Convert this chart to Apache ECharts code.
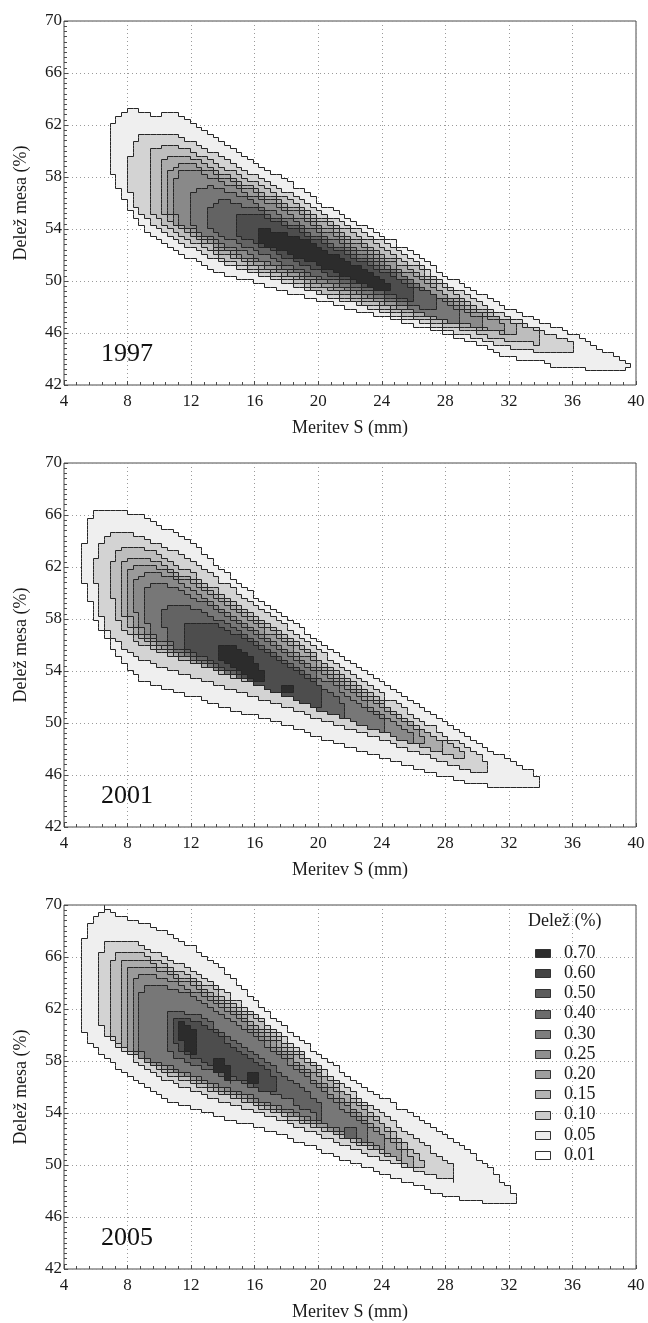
<!DOCTYPE html>
<html><head><meta charset="utf-8">
<script src="https://cdn.jsdelivr.net/npm/echarts/dist/echarts.min.js"></script>
<style>html,body{margin:0;padding:0;background:#fff}#c{width:648px;height:1323px}</style>
</head><body><div id="c"></div>
<script>
// ---------- DATA ----------
const years = ['1997', '2001', '2005'];
const contourLevels = [0.01, 0.05, 0.10, 0.15, 0.20, 0.25, 0.30, 0.40, 0.50, 0.60];
const legendLabels = ['0.70', '0.60', '0.50', '0.40', '0.30', '0.25', '0.20', '0.15', '0.10', '0.05', '0.01'];
const xAxisTitle = 'Meritev S (mm)';
const yAxisTitle = 'Delež mesa (%)';
const legendTitle = 'Delež (%)';

// Each level: list of shapes; each shape: stations [x, yLow, yHigh]
const contours1997 = [
  [[[6.8,59.4,61.2],[7.2,57.8,62.5],[8.0,55.6,63.2],[9.0,54.1,63.1],[9.6,53.5,62.7],[10.5,52.8,63.1],[11.5,52.1,62.6],[12.6,51.4,61.8],[14,50.6,60.6],[16,49.9,59.1],[18,49.2,57.7],[20,48.6,56.1],[22,47.9,54.7],[24,47.3,53.5],[26,46.7,52.1],[28,46.0,50.4],[30,45.2,49.1],[32,44.2,47.9],[34,43.9,46.9],[35,43.4,46.4],[36,43.4,45.9],[38,43.0,44.6],[39.2,43.1,43.8],[39.6,43.5,43.8]]],
  [[[8.05,57.2,59.4],[8.3,56.2,60.4],[8.9,55.2,61.3],[9.6,54.4,61.4],[10.7,53.5,61.3],[12,52.6,60.7],[14,51.5,59.5],[16,50.6,58.1],[18,49.8,56.8],[20,49.1,55.4],[22,48.4,54.2],[24,47.7,53.0],[26,47.0,51.6],[28,46.3,49.8],[30,45.6,48.4],[32,45.0,47.2],[34,44.6,46.2],[36.2,44.5,45.3]]],
  [[[9.25,56.4,59.6],[9.6,55.3,60.2],[10.2,54.5,60.4],[11,53.9,60.4],[12,53.1,59.9],[14,51.8,58.8],[16,50.9,57.6],[18,50.1,56.3],[20,49.3,55.0],[22,48.6,53.8],[24,47.9,52.6],[26,47.2,51.2],[28,46.6,49.4],[30,46.0,48.0],[32,45.4,46.9],[33.9,45.2,46.1]]],
  [[[10.0,55.9,58.8],[10.4,54.9,59.5],[11,54.3,59.7],[12,53.6,59.5],[12.5,53.3,59.2],[14,52.2,58.3],[16,51.2,57.1],[18,50.4,55.9],[20,49.6,54.7],[22,48.9,53.4],[24,48.2,52.1],[26,47.5,50.7],[28,46.9,49.0],[30,46.3,47.7],[32.4,45.9,46.7]]],
  [[[10.45,55.6,58.4],[10.8,54.7,58.9],[11.5,54.1,59.1],[12,53.8,59.0],[14,52.4,58.0],[16,51.4,56.8],[18,50.6,55.6],[20,49.8,54.4],[22,49.1,53.1],[24,48.4,51.8],[26,47.7,50.4],[28,47.1,48.8],[30,46.5,47.5],[31.8,46.0,46.6]]],
  [[[10.9,55.3,57.9],[11.3,54.5,58.4],[12,54.0,58.5],[12.5,53.7,58.4],[14,52.6,57.6],[16,51.6,56.5],[18,50.8,55.3],[20,50.0,54.1],[22,49.3,52.8],[24,48.6,51.5],[26,47.9,50.0],[28,47.3,48.5],[30.3,46.3,47.1]]],
  [[[12.0,54.5,56.8],[12.4,53.9,57.2],[13.2,53.4,57.3],[15,52.4,56.6],[17,51.4,55.4],[19,50.6,54.3],[21,49.8,53.1],[23,49.1,51.9],[25,48.3,50.6],[27,47.3,49.1],[28.8,46.6,47.8]]],
  [[[13.0,54.4,55.6],[13.4,53.9,56.1],[14.2,53.4,56.2],[16,52.4,55.6],[18,51.3,54.5],[20,50.4,53.4],[22,49.7,52.2],[24,49.0,51.0],[26,48.2,49.6],[27.3,47.8,48.9]]],
  [[[14.65,54.0,55.0],[15,53.6,55.2],[16,53.0,55.2],[18,51.8,54.2],[20,50.9,53.1],[22,50.0,51.9],[24,49.2,50.7],[26.0,48.5,49.4]]],
  [[[16.4,53.0,54.0],[17.8,52.3,53.8],[19.9,51.3,52.7],[22,50.3,51.4],[23.6,49.4,50.4],[24.4,49.3,49.9]]]
];

const contours2001 = [
  [[[5.0,61.6,62.7],[5.3,60.6,64.1],[5.55,59.5,65.6],[5.85,58.4,66.25],[6.5,56.8,66.25],[7.95,54.4,66.25],[8.8,53.4,66.0],[9.6,52.9,65.5],[10.7,52.6,64.8],[12.6,51.9,63.3],[14,51.3,61.7],[16,50.6,59.7],[18,49.8,58.0],[20,49.0,56.3],[22,48.2,54.7],[24,47.4,53.1],[26,46.6,51.5],[28,45.9,50.0],[30,45.3,48.4],[32,45.0,47.2],[33.4,45.0,46.3],[33.9,45.2,45.6]]],
  [[[5.95,61.0,62.8],[6.2,59.0,63.4],[6.5,57.8,64.2],[6.9,56.8,64.6],[8,55.6,64.6],[9,54.9,64.2],[10.5,54.2,63.5],[12,53.6,62.4],[14,52.8,60.8],[16,52.0,59.1],[18,51.2,57.4],[20,50.4,55.6],[22,49.6,53.9],[24,48.8,52.2],[26,47.9,50.6],[28,47.0,49.0],[29.8,46.3,47.8],[30.75,46.3,46.8]]],
  [[[7.0,59.8,62.4],[7.3,58.4,63.2],[7.7,57.3,63.6],[8.5,56.4,63.6],[9.5,55.8,63.2],[10.5,55.3,62.6],[12,54.7,61.5],[14,53.9,59.9],[16,53.1,58.3],[18,52.2,56.6],[20,51.3,55.0],[22,50.4,53.3],[24,49.5,51.6],[26,48.6,50.0],[28,47.6,48.5],[29.3,47.2,47.7]]],
  [[[7.5,59.6,61.9],[7.8,58.2,62.5],[8.2,57.2,62.8],[9.0,56.4,62.8],[10,55.8,62.4],[11,55.2,61.7],[13,54.3,60.3],[15,53.5,58.8],[17,52.6,57.2],[19,51.7,55.6],[21,50.8,53.9],[23,49.9,52.2],[25,49.0,50.5],[26.8,48.1,49.2],[27.8,47.7,48.7]]],
  [[[7.95,59.4,61.5],[8.2,58.0,62.0],[8.6,57.1,62.2],[9.4,56.3,62.2],[10.5,55.7,61.7],[12,54.9,60.7],[14,54.0,59.2],[16,53.1,57.6],[18,52.2,56.0],[20,51.3,54.4],[22,50.4,52.8],[24,49.5,51.1],[25.5,48.8,49.9],[26.6,48.4,49.0]]],
  [[[8.4,59.1,60.9],[8.7,57.8,61.3],[9.1,56.9,61.5],[10,56.1,61.5],[11,55.5,61.0],[12,54.9,60.3],[14,54.0,58.8],[16,53.1,57.2],[18,52.2,55.6],[20,51.3,54.0],[22,50.4,52.4],[24,49.4,50.6],[26.0,48.4,49.1]]],
  [[[9.0,58.6,60.2],[9.3,57.4,60.6],[9.8,56.6,60.8],[11,55.6,60.4],[13,54.5,59.1],[15,53.5,57.6],[17,52.6,56.0],[19,51.7,54.4],[21,50.8,52.8],[23,49.8,51.0],[24.0,49.3,50.2]]],
  [[[10.25,57.6,58.7],[10.5,56.6,59.1],[11,55.9,59.2],[12,55.2,58.9],[14,54.1,57.8],[16,53.1,56.4],[18,52.1,54.8],[20,51.1,53.0],[21.5,50.5,51.5]]],
  [[[11.4,56.6,57.4],[11.8,55.7,57.8],[13,55.0,57.8],[15,53.7,56.7],[17,52.6,55.3],[19,51.6,53.8],[20.1,51.1,52.8]]],
  [[[13.6,55.1,56.0],[14.6,54.3,56.0],[15.5,53.7,55.4],[16.1,53.2,54.6],[16.6,53.2,53.8]],
   [[17.7,52.4,52.8],[18.4,52.4,52.8]]]
];

const contours2005 = [
  [[[5.0,62.9,64.7],[5.2,60.4,67.3],[5.5,59.6,68.3],[5.9,59.1,69.1],[6.3,58.7,69.4],[6.5,58.5,70.0],[6.8,58.2,69.5],[8.0,56.9,69.0],[9.0,56.1,68.6],[10.5,55.1,67.8],[12,54.5,66.8],[14,53.7,65.0],[16,53.0,62.6],[18,52.2,60.5],[20,51.3,58.5],[22,50.3,56.7],[24,49.4,55.2],[26,48.6,53.8],[28,47.7,52.3],[29,47.4,51.5],[30,47.2,50.6],[31,47.1,49.6],[31.6,47.0,48.5],[32.2,47.1,48.0],[32.6,47.3,47.7]]],
  [[[6.3,60.9,66.4],[6.7,59.9,67.3],[8.0,58.6,67.3],[9.0,57.6,66.8],[10,56.8,66.2],[12,55.8,65.0],[14,55.0,63.4],[16,54.1,61.6],[18,53.3,59.6],[20,52.4,57.6],[22,51.4,55.7],[24,50.5,53.9],[26,49.8,52.2],[27.5,49.1,50.7],[28.55,48.8,49.9]]],
  [[[7.0,60.2,65.6],[7.3,59.4,66.5],[8.2,58.7,66.5],[9.5,57.7,65.9],[11,56.8,65.1],[13,55.9,63.8],[15,55.1,62.2],[17,54.2,60.3],[19,53.3,58.3],[21,52.4,56.3],[23,51.5,54.3],[25,50.5,52.2],[26.5,49.7,50.4]]],
  [[[7.5,59.8,65.2],[7.8,59.0,65.9],[8.8,58.3,65.9],[10,57.6,65.3],[12,56.6,64.1],[14,55.7,62.6],[16,54.8,60.9],[18,53.9,59.0],[20,53.0,57.2],[22,52.1,55.2],[24,51.1,53.0],[25.9,49.9,50.6]]],
  [[[7.9,59.5,64.6],[8.2,58.7,65.3],[9.3,58.0,65.3],[10.5,57.4,64.7],[12,56.7,63.8],[14,55.8,62.3],[16,54.9,60.6],[18,54.0,58.6],[20,53.1,56.7],[22,52.2,54.6],[24,51.2,52.4],[25.4,50.1,50.9]]],
  [[[8.3,59.2,64.0],[8.6,58.5,64.7],[9.8,57.9,64.6],[11,57.3,64.0],[13,56.4,62.8],[15,55.5,61.2],[17,54.6,59.3],[19,53.7,57.3],[21,52.8,55.3],[23,51.9,53.2],[24.2,51.2,52.1]]],
  [[[8.8,58.8,63.2],[9.2,58.3,63.9],[10.2,57.8,63.9],[12,57.0,63.0],[14,56.1,61.6],[16,55.2,59.9],[18,54.3,58.0],[20,53.4,56.0],[22,52.4,53.8],[23.0,51.8,52.9]]],
  [[[10.35,59.1,61.8],[11,58.4,61.9],[12.5,57.6,61.5],[14.2,56.8,60.0],[16,56.0,58.5],[18,55.2,56.8],[19.5,54.1,55.4],[20.1,53.6,54.7]],
   [[21.6,52.2,52.8],[22.2,52.2,52.8]]],
  [[[11.0,59.4,61.2],[11.5,58.6,61.4],[12.5,58.2,61.0],[14,57.2,59.6],[15.5,56.4,58.4],[16.8,55.6,57.4],[17.3,55.9,56.6]]],
  [[[11.2,60.0,60.9],[11.6,59.0,61.0],[12.0,58.6,60.5],[12.45,58.7,59.8]],
   [[13.4,57.4,58.1],[13.9,57.0,58.2],[14.35,56.4,57.3]],
   [[15.6,56.3,57.0],[16.2,56.4,57.05]]]
];

const panels = [contours1997, contours2001, contours2005];

// ---------- STYLE ----------
const FONT = '"Liberation Serif", "Times New Roman", serif';
const fillColors = ['#efefef','#d3d3d3','#bdbdbd','#ababab','#9a9a9a','#898989','#777777','#636363','#4d4d4d','#2c2c2c'];
const legendColors = ['#2c2c2c','#444444','#5c5c5c','#6b6b6b','#7e7e7e','#8f8f8f','#9e9e9e','#b3b3b3','#cccccc','#ececec','#ffffff'];
const gridTops = [21, 463, 905];
const GL = 64, GW = 572, GH = 364;
const CELL_X = 0.36, CELL_Y = 0.28; // raster cell of the contouring grid

function toPolygon(st) {
  const up = st.map(s => [s[0], s[2]]);
  const lo = st.slice().reverse().map(s => [s[0], s[1]]);
  return up.concat(lo);
}
function snap(x, y) {
  return [4 + Math.round((x - 4) / CELL_X) * CELL_X, 42 + Math.round((y - 42) / CELL_Y) * CELL_Y];
}
function stairs(poly) {
  const pts = [];
  for (let i = 0; i < poly.length; i++) {
    const a = poly[i], b = poly[(i + 1) % poly.length];
    const n = Math.max(1, Math.ceil(Math.max(Math.abs(b[0] - a[0]) / CELL_X, Math.abs(b[1] - a[1]) / CELL_Y) * 3));
    for (let k = 0; k < n; k++) {
      const t = k / n;
      pts.push(snap(a[0] + (b[0] - a[0]) * t, a[1] + (b[1] - a[1]) * t));
    }
  }
  pts.push(pts[0]);
  const out = [];
  const eq = (u, v) => Math.abs(u - v) < 1e-9;
  for (const p of pts) {
    if (!out.length) { out.push(p); continue; }
    const q = out[out.length - 1];
    if (eq(p[0], q[0]) && eq(p[1], q[1])) continue;
    if (!eq(p[0], q[0]) && !eq(p[1], q[1])) out.push([p[0], q[1]]);
    out.push(p);
  }
  return out;
}

const grids = [], xAxes = [], yAxes = [], series = [], graphics = [];
panels.forEach((panel, p) => {
  grids.push({ left: GL, top: gridTops[p], width: GW, height: GH, show: true, borderColor: '#4a4a4a', borderWidth: 1, backgroundColor: 'transparent' });
  xAxes.push({
    gridIndex: p, type: 'value', min: 4, max: 40, interval: 4,
    name: xAxisTitle, nameLocation: 'middle', nameGap: 34,
    nameTextStyle: { fontFamily: FONT, fontSize: 18, color: '#1a1a1a' },
    axisLine: { show: false },
    axisTick: { show: true, inside: true, length: 4, lineStyle: { color: '#4a4a4a' } },
    minorTick: { show: true, splitNumber: 5, length: 3, lineStyle: { color: '#4a4a4a' } },
    axisLabel: { fontFamily: FONT, fontSize: 17, color: '#1a1a1a', margin: 8 },
    splitLine: { show: true, lineStyle: { color: '#9a9a9a', type: [1, 3], width: 1 } }
  });
  yAxes.push({
    gridIndex: p, type: 'value', min: 42, max: 70, interval: 4,
    name: yAxisTitle, nameLocation: 'middle', nameGap: 34, nameRotate: 90,
    nameTextStyle: { fontFamily: FONT, fontSize: 18, color: '#1a1a1a' },
    axisLine: { show: false },
    axisTick: { show: true, inside: true, length: 4, lineStyle: { color: '#4a4a4a' } },
    minorTick: { show: true, splitNumber: 10, length: 3, lineStyle: { color: '#4a4a4a' } },
    axisLabel: { fontFamily: FONT, fontSize: 17, color: '#1a1a1a', margin: 2 },
    splitLine: { show: true, lineStyle: { color: '#9a9a9a', type: [1, 3], width: 1 } }
  });
  const data = [];
  panel.forEach((shapes, li) => shapes.forEach((sh, si) => data.push([li, si])));
  series.push({
    type: 'custom', xAxisIndex: p, yAxisIndex: p, clip: true, silent: true,
    data: data,
    renderItem: function (params, api) {
      const li = api.value(0), si = api.value(1);
      const poly = stairs(toPolygon(panel[li][si]));
      const pts = poly.map(d => { const c = api.coord(d); return [Math.round(c[0]) + 0.5, Math.round(c[1]) + 0.5]; });
      return { type: 'polygon', shape: { points: pts }, style: { fill: fillColors[li], stroke: '#262626', lineWidth: 1 } };
    }
  });
  graphics.push({ type: 'text', x: 101, y: gridTops[p] + GH - 31, style: { text: years[p], font: '26px ' + FONT, fill: '#111', textAlign: 'left', textVerticalAlign: 'middle' }, z: 100 });
});

// legend in third panel
graphics.push({ type: 'text', x: 528, y: 921, style: { text: legendTitle, font: '18px ' + FONT, fill: '#1a1a1a', textAlign: 'left', textVerticalAlign: 'middle' }, z: 100 });
legendLabels.forEach((lab, i) => {
  const cy = 953 + i * 20.2;
  graphics.push({ type: 'rect', shape: { x: 535.5, y: Math.round(cy - 4) + 0.5, width: 15, height: 8 }, style: { fill: legendColors[i], stroke: '#333', lineWidth: 1 }, z: 100 });
  graphics.push({ type: 'text', x: 564, y: cy, style: { text: lab, font: '18px ' + FONT, fill: '#1a1a1a', textAlign: 'left', textVerticalAlign: 'middle' }, z: 100 });
});

const chart = echarts.init(document.getElementById('c'), null, { renderer: 'canvas' });
chart.setOption({
  animation: false,
  backgroundColor: '#ffffff',
  grid: grids, xAxis: xAxes, yAxis: yAxes, series: series, graphic: graphics
});
</script></body></html>
